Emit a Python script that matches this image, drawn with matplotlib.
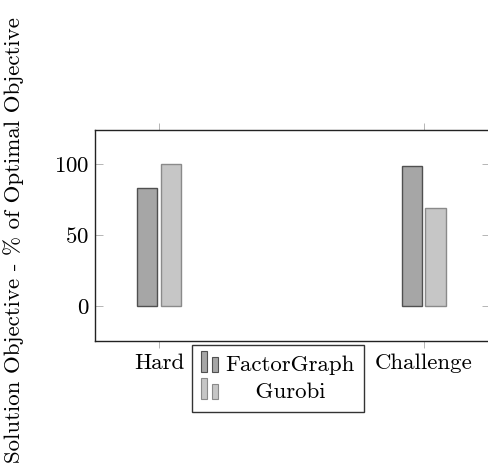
import numpy as np
import matplotlib
matplotlib.use("Agg")
import matplotlib.pyplot as plt
from matplotlib.legend_handler import HandlerBase
from matplotlib.patches import Rectangle

plt.rcParams['font.family'] = ['cmr10', 'DejaVu Serif']
plt.rcParams['axes.formatter.use_mathtext'] = True

categories = ["Hard", "Challenge"]
factorgraph = [83, 99]
gurobi = [100, 69]


class TwoBars(HandlerBase):
    # pgfplots style legend image: two little bars side by side
    def create_artists(self, legend, orig, xd, yd, width, height, fontsize, trans):
        fc = orig.get_facecolor()
        ec = orig.get_edgecolor()
        bw = width * 0.3
        out = []
        for i, hh in enumerate([height * 1.2, height * 0.85]):
            r = Rectangle((i * width * 0.6, -yd), bw, hh,
                          facecolor=fc, edgecolor=ec, linewidth=0.8,
                          transform=trans)
            out.append(r)
        return out


fig = plt.figure(figsize=(4.88, 4.68), dpi=100)
W, H = 488.0, 468.0
ax = fig.add_axes([95 / W, 1 - 341 / H, (490 - 95) / W, (341 - 130) / H])

x = np.arange(len(categories))
w = 0.076
b1 = ax.bar(x - 0.044, factorgraph, w, color="#a6a6a6", edgecolor="#505050",
            linewidth=1.0, label="FactorGraph")
b2 = ax.bar(x + 0.044, gurobi, w, color="#c6c6c6", edgecolor="#8a8a8a",
            linewidth=1.0, label="Gurobi")

ax.set_xlim(-0.242, 1.25)
ax.set_ylim(-24.5, 124)
ax.set_xticks(x)
ax.set_xticklabels(categories)
ax.set_yticks([0, 50, 100])
ax.tick_params(axis="x", direction="out", top=True, bottom=True, length=5,
               width=0.6, color="#aaaaaa", labelsize=16.5, pad=4)
ax.tick_params(axis="y", direction="in", left=True, right=True, length=6,
               width=0.6, color="#aaaaaa", labelsize=16.5, pad=4)
for s in ax.spines.values():
    s.set_linewidth(1.0)
    s.set_color("#222222")

fig.text(14 / W, 1 - 240 / H, "Solution Objective - % of Optimal Objective",
         rotation=90, ha="center", va="center", fontsize=16.5)

leg = fig.legend([b1.patches[0], b2.patches[0]], ["FactorGraph", "    Gurobi"],
                 handler_map={Rectangle: TwoBars()},
                 loc="upper left", bbox_to_anchor=(192 / W, 1 - 345 / H),
                 fontsize=16.5, frameon=True, fancybox=False, edgecolor="black",
                 handlelength=0.8, handleheight=0.8, handletextpad=0.25,
                 borderpad=0.4, borderaxespad=0, labelspacing=0.3)
leg.get_frame().set_linewidth(1.0)

fig.savefig("out.png", dpi=100)
